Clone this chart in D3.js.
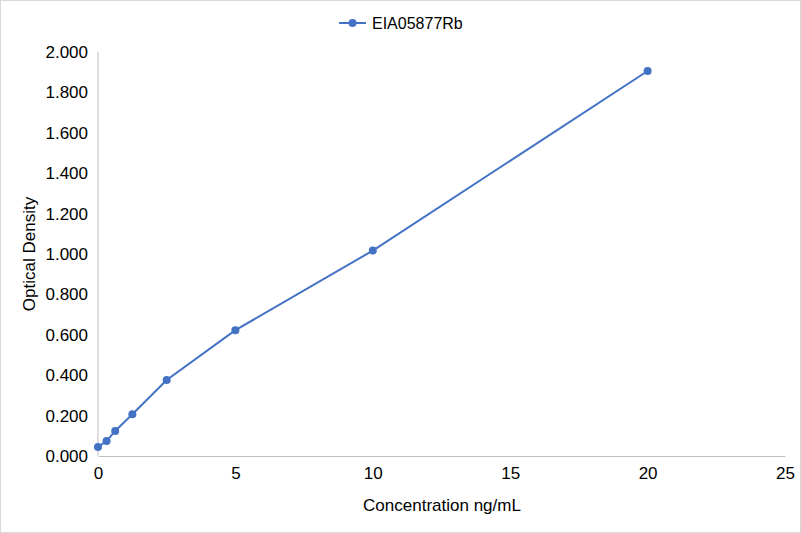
<!DOCTYPE html>
<html>
<head>
<meta charset="utf-8">
<script src="https://cdn.jsdelivr.net/npm/d3@7"></script>
<style>
  body { margin: 0; background: #fff; }
  text { font-family: "Liberation Sans", Arial, sans-serif; fill: #000; }
</style>
</head>
<body>
<div id="chart"></div>
<script>
// 資料 / data
const seriesName = "EIA05877Rb";
const concentrations = [0, 0.3125, 0.625, 1.25, 2.5, 5, 10, 20];
const densities = [0.045, 0.074, 0.124, 0.207, 0.376, 0.623, 1.017, 1.906];
const xTicks = [0, 5, 10, 15, 20, 25];
const yTicks = [0, 0.2, 0.4, 0.6, 0.8, 1.0, 1.2, 1.4, 1.6, 1.8, 2.0];

const width = 801, height = 533;
const margin = { left: 98, right: 16, top: 52, bottom: 77 };
const color = "#4472C4";

const svg = d3.select("#chart").append("svg")
    .attr("width", width).attr("height", height);

// 外框 / outer border
svg.append("rect").attr("x", 0.5).attr("y", 0.5)
    .attr("width", width - 1).attr("height", height - 1)
    .attr("fill", "#fff").attr("stroke", "#d9d9d9");

const x = d3.scaleLinear().domain([0, 25]).range([margin.left, width - margin.right]);
const y = d3.scaleLinear().domain([0, 2]).range([height - margin.bottom, margin.top]);

// 軸 / axes
const xAxis = svg.append("g")
    .attr("transform", `translate(0,${y(0)})`)
    .call(d3.axisBottom(x).tickValues(xTicks).tickSize(0).tickPadding(11).tickFormat(d3.format("d")));
const yAxis = svg.append("g")
    .attr("transform", `translate(${x(0)},0)`)
    .call(d3.axisLeft(y).tickValues(yTicks).tickSize(0).tickPadding(10).tickFormat(d3.format(".3f")));

[xAxis, yAxis].forEach(g => {
    g.select(".domain").attr("stroke", "#bfbfbf");
    g.selectAll("text").attr("font-size", "17px").attr("fill", "#000")
        .attr("font-family", "Liberation Sans, Arial, sans-serif");
});
yAxis.select(".domain").attr("d", `M0,${y(0)}V${y(2)}`);

// 軸標題 / axis titles
svg.append("text").attr("x", 442).attr("y", 511)
    .attr("text-anchor", "middle").attr("font-size", "17px").text("Concentration ng/mL");
svg.append("text").attr("transform", `translate(35,${y(1)}) rotate(-90)`)
    .attr("text-anchor", "middle").attr("font-size", "17px").text("Optical Density");

// 線與點 / line and markers
const pts = concentrations.map((c, i) => [c, densities[i]]);
svg.append("path").datum(pts)
    .attr("d", d3.line().x(d => x(d[0])).y(d => y(d[1])))
    .attr("fill", "none").attr("stroke", color).attr("stroke-width", 2);
svg.append("g").selectAll("circle").data(pts).enter().append("circle")
    .attr("cx", d => x(d[0])).attr("cy", d => y(d[1])).attr("r", 4)
    .attr("fill", color);

// 圖例 / legend
const lg = svg.append("g").attr("transform", "translate(339,23)");
lg.append("line").attr("x1", 0).attr("x2", 27).attr("stroke", color).attr("stroke-width", 2);
lg.append("circle").attr("cx", 13.5).attr("r", 4).attr("fill", color);
lg.append("text").attr("x", 33).attr("y", 6).attr("font-size", "16px").text(seriesName);
</script>
</body>
</html>
